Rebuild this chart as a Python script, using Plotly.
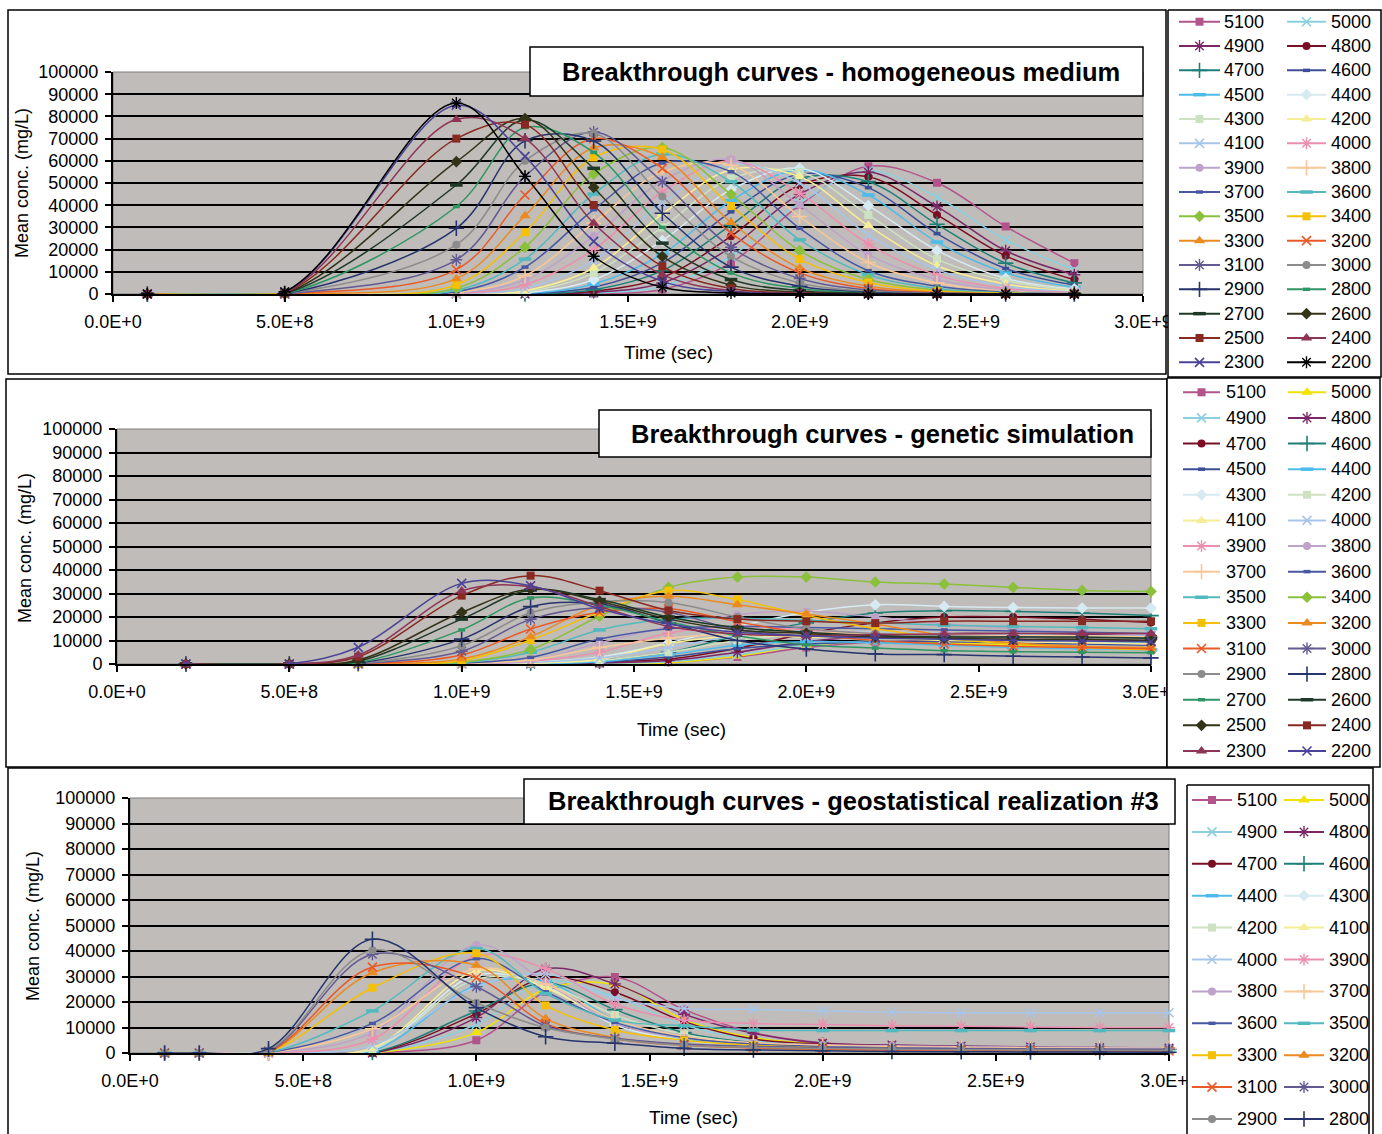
import plotly.graph_objects as go

W, H = 1382, 1134
FONT = "Liberation Sans, Arial, Helvetica, sans-serif"

# ---------------------------------------------------------------- data
XTICKS = [0, 5e8, 1e9, 1.5e9, 2e9, 2.5e9, 3e9]
XTICK_TEXT = ["0.0E+0", "5.0E+8", "1.0E+9", "1.5E+9", "2.0E+9", "2.5E+9", "3.0E+9"]

# series look-up: (colour, marker kind)
PALETTE = [
    ("#B3538C", "sq"), ("#F2E200", "tri"), ("#8BD0DF", "x"), ("#7B2868", "ast"),
    ("#7A0E25", "cir"), ("#1F7F78", "plus"), ("#3E4E96", "sdash"), ("#4DBCEB", "ldash"),
    ("#D6EAF1", "dia"), ("#CDE2C1", "sq"), ("#F6EE96", "tri"), ("#A7C5E9", "x"),
    ("#EC8FAF", "ast"), ("#BEA2C9", "cir"), ("#F8C899", "plus"), ("#4858A3", "sdash"),
    ("#52BABF", "ldash"), ("#8BC03A", "dia"), ("#F5C000", "sq"), ("#EC8A22", "tri"),
    ("#E95A28", "x"), ("#625A92", "ast"), ("#8C8C8C", "cir"), ("#26356D", "plus"),
    ("#2E9663", "sdash"), ("#1E3927", "ldash"), ("#323317", "dia"), ("#882A21", "sq"),
    ("#8E3456", "tri"), ("#4A4398", "x"), ("#000000", "ast"),
]

# --- homogeneous medium
HOM_TIMES = [1e8, 5e8, 1.0e9, 1.2e9, 1.4e9, 1.6e9, 1.8e9, 2.0e9, 2.2e9, 2.4e9, 2.6e9, 2.8e9]
HOM_NAMES = ["5100", "5000", "4900", "4800", "4700", "4600", "4500", "4400", "4300", "4200",
             "4100", "4000", "3900", "3800", "3700", "3600", "3500", "3400", "3300", "3200",
             "3100", "3000", "2900", "2800", "2700", "2600", "2500", "2400", "2300", "2200"]
HOM_STYLE = [0] + list(range(2, 31))
HOM_CONC = [
    [0, 0, 0, 0, 200, 2000, 14000, 40000, 57500, 50100, 30400, 13900],
    [0, 0, 0, 0, 400, 3500, 17000, 41000, 55500, 43600, 24400, 10900],
    [0, 0, 0, 0, 700, 5000, 21000, 45000, 54900, 39400, 19500, 8700],
    [0, 0, 0, 0, 1200, 7500, 26000, 49000, 52800, 35600, 17200, 6400],
    [0, 0, 0, 0, 1900, 10500, 31000, 52000, 50600, 31400, 13900, 5000],
    [0, 0, 0, 150, 3000, 14000, 37000, 54000, 47900, 27200, 11500, 4000],
    [0, 0, 0, 300, 4500, 18000, 42000, 56000, 44600, 23400, 9500, 3000],
    [0, 0, 0, 500, 6400, 24000, 47000, 56600, 39800, 19600, 7000, 2300],
    [0, 0, 0, 900, 9400, 30000, 52000, 55000, 35600, 15700, 6000, 1800],
    [0, 0, 50, 1500, 11700, 36000, 56000, 52800, 30800, 12700, 4500, 1300],
    [0, 0, 100, 2500, 15000, 41000, 58500, 50000, 26600, 11000, 3500, 1000],
    [0, 0, 200, 4200, 20000, 46000, 60000, 45400, 22500, 8500, 2500, 700],
    [0, 0, 400, 6400, 26000, 51000, 60600, 40100, 17700, 6500, 1800, 500],
    [0, 0, 600, 8200, 32000, 55000, 58000, 34900, 14200, 5000, 1300, 300],
    [0, 0, 1000, 12100, 38000, 59000, 55100, 29600, 10500, 3500, 900, 200],
    [0, 0, 1700, 15700, 45000, 63000, 50600, 24400, 8700, 2500, 600, 100],
    [0, 0, 2700, 21100, 54000, 66000, 44900, 19500, 6500, 1800, 400, 100],
    [0, 0, 4200, 27800, 61500, 65100, 39700, 15700, 5200, 1200, 300, 0],
    [0, 0, 6900, 35300, 65900, 61500, 32200, 11700, 3500, 900, 200, 0],
    [0, 0, 11000, 44600, 70000, 56600, 27400, 9500, 2500, 600, 100, 0],
    [0, 0, 15400, 53000, 73000, 50600, 21000, 7000, 1800, 400, 100, 0],
    [0, 100, 22200, 60000, 72300, 43900, 16900, 5000, 1200, 300, 0, 0],
    [0, 100, 29600, 69000, 68900, 36400, 12100, 3500, 800, 200, 0, 0],
    [0, 100, 39400, 75000, 63800, 30000, 9500, 2500, 500, 100, 0, 0],
    [0, 200, 49100, 78500, 56600, 22900, 6500, 1500, 300, 0, 0, 0],
    [0, 300, 59600, 79000, 48000, 16900, 4000, 800, 100, 0, 0, 0],
    [0, 500, 70000, 76300, 40100, 12400, 2500, 500, 100, 0, 0, 0],
    [0, 700, 78600, 70000, 31900, 8700, 1500, 300, 0, 0, 0, 0],
    [0, 900, 85000, 62000, 23700, 5700, 1000, 200, 0, 0, 0, 0],
    [0, 1000, 86000, 53000, 17000, 3000, 500, 100, 0, 0, 0, 0],
]

# --- genetic simulation
GEN_TIMES = [2e8, 5e8, 7e8, 1.0e9, 1.2e9, 1.4e9, 1.6e9, 1.8e9, 2.0e9, 2.2e9, 2.4e9, 2.6e9, 2.8e9, 3.0e9]
GEN_NAMES = ["5100", "5000", "4900", "4800", "4700", "4600", "4500", "4400", "4300", "4200",
             "4100", "4000", "3900", "3800", "3700", "3600", "3500", "3400", "3300", "3200",
             "3100", "3000", "2900", "2800", "2700", "2600", "2500", "2400", "2300", "2200"]
GEN_STYLE = list(range(0, 30))
GEN_CONC = [
    [0, 0, 0, 0, 0, 200, 800, 3000, 7000, 9500, 10500, 10500, 10000, 9500],
    [0, 0, 0, 0, 0, 100, 500, 3300, 8000, 9500, 9000, 8000, 7000, 6500],
    [0, 0, 0, 0, 0, 300, 1000, 4000, 8000, 10000, 10500, 10000, 9500, 9000],
    [0, 0, 0, 0, 0, 400, 1500, 5000, 9500, 12000, 13000, 13000, 12500, 12000],
    [0, 0, 0, 0, 200, 1000, 2100, 6700, 13000, 17500, 20000, 20000, 19000, 17700],
    [0, 0, 0, 0, 300, 1500, 5000, 12000, 17500, 21700, 22700, 22400, 21700, 20600],
    [0, 0, 0, 0, 100, 700, 3000, 6500, 8500, 9500, 9500, 9000, 8500, 8000],
    [0, 0, 0, 0, 200, 1000, 4000, 8000, 9500, 9000, 8000, 7000, 6500, 6000],
    [0, 0, 0, 0, 800, 3000, 9000, 16000, 22000, 25200, 24500, 24000, 23800, 23800],
    [0, 0, 0, 0, 300, 1500, 5000, 10000, 13000, 13500, 13000, 12500, 12000, 11500],
    [0, 0, 0, 0, 400, 2000, 8700, 12000, 11500, 11000, 10000, 9500, 9000, 8500],
    [0, 0, 0, 0, 600, 2500, 7000, 12000, 14000, 13500, 13000, 12500, 12000, 12000],
    [0, 0, 0, 100, 1200, 5000, 13200, 16000, 14500, 13000, 12000, 11500, 11000, 10500],
    [0, 0, 0, 100, 1500, 9000, 16000, 21000, 22400, 20000, 17000, 15000, 13500, 12500],
    [0, 0, 0, 200, 1700, 7000, 11000, 13000, 13500, 13000, 12500, 12000, 12000, 11500],
    [0, 0, 0, 300, 2800, 10600, 15000, 16000, 15500, 15000, 14500, 14000, 13500, 13000],
    [0, 0, 0, 500, 5000, 14500, 19000, 19500, 18500, 17500, 16500, 16000, 15500, 15000],
    [0, 0, 0, 800, 6200, 20300, 32600, 37000, 37000, 34900, 34000, 32600, 31300, 30900],
    [0, 0, 0, 1400, 10200, 22000, 31200, 27400, 20600, 15000, 11000, 8500, 7000, 6000],
    [0, 0, 0, 2100, 11600, 25000, 28800, 25200, 21300, 17000, 12000, 9000, 7500, 7000],
    [0, 0, 100, 3800, 14900, 22000, 23500, 18000, 13000, 10000, 8500, 7500, 7000, 6500],
    [0, 0, 200, 5400, 19000, 24000, 22000, 14600, 12000, 11500, 11500, 11500, 11000, 11000],
    [0, 0, 300, 7800, 21800, 26500, 26200, 20000, 15000, 13000, 12000, 11500, 11000, 10500],
    [0, 0, 400, 10600, 24400, 25500, 17500, 10000, 6400, 4300, 4000, 3300, 3000, 2600],
    [0, 0, 600, 14500, 28100, 25000, 18000, 12000, 8200, 6800, 5700, 5200, 5000, 4800],
    [0, 0, 1200, 19100, 31500, 27400, 20000, 15500, 13500, 12000, 11500, 11500, 11500, 11000],
    [0, 0, 1700, 22000, 31800, 26700, 19100, 14500, 13000, 11500, 11000, 10500, 10500, 10000],
    [0, 0, 3100, 29100, 37600, 31200, 22800, 19100, 18200, 17400, 18200, 18200, 18200, 18200],
    [0, 0, 3800, 31100, 32900, 24500, 16000, 12800, 12000, 12500, 12800, 13000, 13000, 13000],
    [0, 0, 7100, 34300, 33300, 23500, 17000, 13500, 12000, 11000, 10500, 10000, 9800, 9500],
]

# --- geostatistical realization #3
GEO_TIMES = [1e8, 2e8, 4e8, 7e8, 1.0e9, 1.2e9, 1.4e9, 1.6e9, 1.8e9, 2.0e9, 2.2e9, 2.4e9, 2.6e9,
             2.8e9, 3.0e9]
GEO_NAMES = ["5100", "5000", "4900", "4800", "4700", "4600", "4400", "4300", "4200", "4100",
             "4000", "3900", "3800", "3700", "3600", "3500", "3300", "3200", "3100", "3000",
             "2900", "2800"]
GEO_STYLE = [0, 1, 2, 3, 4, 5, 7, 8, 9, 10, 11, 12, 13, 14, 15, 16, 18, 19, 20, 21, 22, 23]
GEO_CONC = [
    [0, 0, 0, 0, 5000, 24000, 29800, 17000, 8000, 4000, 3000, 2500, 2200, 2000, 1900],
    [0, 0, 0, 0, 8000, 25000, 26900, 13000, 6000, 3500, 2500, 2000, 1800, 1600, 1500],
    [0, 0, 0, 0, 11200, 28000, 22000, 11000, 5000, 3000, 2400, 2000, 1800, 1700, 1600],
    [0, 0, 0, 0, 13900, 33000, 27100, 15200, 7700, 3800, 3100, 2700, 2400, 2200, 2000],
    [0, 0, 0, 0, 15400, 29500, 23800, 12300, 5500, 3500, 2800, 2400, 2200, 2000, 1900],
    [0, 0, 0, 200, 16500, 27500, 17000, 8000, 4000, 2800, 2200, 1900, 1700, 1600, 1500],
    [0, 0, 0, 800, 26500, 28000, 13000, 5500, 3200, 2300, 1900, 1700, 1500, 1400, 1300],
    [0, 0, 0, 1400, 30600, 26000, 11000, 5000, 3000, 2200, 1800, 1600, 1500, 1400, 1300],
    [0, 0, 0, 1500, 29000, 27000, 14900, 7300, 3800, 2500, 2000, 1800, 1600, 1500, 1400],
    [0, 0, 0, 2000, 32200, 25600, 12000, 6000, 3500, 2500, 2000, 1800, 1600, 1500, 1400],
    [0, 0, 0, 3000, 26000, 31000, 21400, 17500, 17100, 16500, 16000, 15800, 15800, 15800, 15800],
    [0, 0, 0, 5400, 38000, 33100, 19100, 12900, 11600, 11200, 10700, 10500, 10200, 10000, 10000],
    [0, 0, 100, 8000, 42400, 27800, 11600, 6000, 4000, 3200, 2800, 2500, 2300, 2200, 2100],
    [0, 0, 100, 9500, 33000, 27000, 13000, 6500, 4000, 3000, 2500, 2200, 2000, 1900, 1800],
    [0, 0, 200, 11600, 37000, 24000, 12000, 6000, 3500, 2500, 2000, 1800, 1600, 1500, 1400],
    [0, 0, 200, 16500, 41000, 23300, 12900, 10700, 9000, 8800, 8800, 8800, 8800, 8800, 8800],
    [0, 0, 400, 25600, 39100, 18700, 9000, 5000, 3000, 2200, 1800, 1500, 1300, 1200, 1100],
    [0, 0, 500, 31500, 34400, 13500, 6000, 3200, 2000, 1500, 1200, 1000, 900, 800, 700],
    [0, 0, 600, 33700, 29500, 11500, 5500, 3000, 2000, 1500, 1200, 1000, 900, 800, 800],
    [0, 0, 800, 38700, 26000, 10600, 5800, 3500, 2600, 2200, 1900, 1700, 1600, 1500, 1500],
    [0, 0, 1000, 40300, 19700, 9900, 5500, 3000, 2200, 1800, 1500, 1300, 1200, 1100, 1000],
    [0, 0, 1700, 44600, 17800, 6400, 3800, 1800, 1200, 900, 600, 500, 400, 400, 300],
]

TITLES = ["Breakthrough curves - homogeneous medium",
          "Breakthrough curves - genetic simulation",
          "Breakthrough curves - geostatistical realization #3"]

# ---------------------------------------------------------------- layout geometry (pixels)
PANELS = [
    dict(times=HOM_TIMES, names=HOM_NAMES, styles=HOM_STYLE, conc=HOM_CONC,
         plot=(113, 72, 1143, 294), frame=(8, 10, 1166, 374),
         tbox=(530, 47, 1143, 96), tpos=(841, 72),
         xtitle=(668, 352), ytitle=(22, 183),
         lbox=(1168, 10, 1381, 377), lcols=((1179, 1220, 1222), (1287, 1326, 1329)),
         lrow0=21.7, ldy=24.33),
    dict(times=GEN_TIMES, names=GEN_NAMES, styles=GEN_STYLE, conc=GEN_CONC,
         plot=(117, 429, 1151, 664), frame=(6, 379, 1167, 767),
         tbox=(599, 410, 1151, 457), tpos=(882, 434),
         xtitle=(681, 729), ytitle=(25, 548),
         lbox=(1167, 378, 1380, 767), lcols=((1183, 1220, 1224), (1288, 1326, 1329)),
         lrow0=392.3, ldy=25.62),
    dict(times=GEO_TIMES, names=GEO_NAMES, styles=GEO_STYLE, conc=GEO_CONC,
         plot=(130, 798, 1169, 1053), frame=(8, 768, 1373, 1145),
         tbox=(524, 779, 1175, 824), tpos=(853, 801),
         xtitle=(693, 1117), ytitle=(33, 926),
         lbox=(1187, 785, 1369, 1145), lcols=((1192, 1232, 1235), (1284, 1324, 1327)),
         lrow0=800, ldy=31.9),
]

KIND = {
    "sq": dict(symbol="square", size=8, lw=0),
    "tri": dict(symbol="triangle-up", size=10, lw=0),
    "x": dict(symbol="x-thin", size=9, lw=1.6),
    "ast": dict(symbol="asterisk", size=10, lw=1.4),
    "cir": dict(symbol="circle", size=8, lw=0),
    "plus": dict(symbol="cross-thin", size=11, lw=1.6),
    "sdash": dict(symbol="line-ew", size=5, lw=3.5),
    "ldash": dict(symbol="line-ew", size=9, lw=3.5),
    "dia": dict(symbol="diamond", size=9, lw=0),
}


def px(x):
    return x / W


def py(y):
    return 1 - y / H


def marker_for(style_idx):
    color, kind = PALETTE[style_idx]
    k = KIND[kind]
    return color, dict(symbol=k["symbol"], size=k["size"], color=color,
                       line=dict(color=color, width=k["lw"]))


fig = go.Figure()
shapes, annotations = [], []
layout_axes = {}

for i, p in enumerate(PANELS, start=1):
    x0, y0, x1, y1 = p["plot"]
    suffix = "" if i == 1 else str(i)
    xname, yname = "x" + suffix, "y" + suffix
    layout_axes["xaxis" + suffix] = dict(
        domain=[px(x0), px(x1)], range=[0, 3e9], anchor=yname, automargin=False,
        tickmode="array", tickvals=XTICKS, ticktext=XTICK_TEXT,
        ticks="outside", ticklen=6, tickwidth=1.5, tickcolor="black",
        showline=True, linecolor="black", linewidth=2,
        showgrid=False, zeroline=False, fixedrange=True,
        ticklabelstandoff=4,
        tickfont=dict(family=FONT, size=18, color="black"))
    layout_axes["yaxis" + suffix] = dict(
        domain=[py(y1), py(y0)], range=[0, 100000], anchor=xname, automargin=False,
        tickmode="linear", tick0=0, dtick=10000, tickformat="d",
        ticks="outside", ticklen=6, tickwidth=1.5, tickcolor="black",
        showline=True, linecolor="black", linewidth=2,
        showgrid=True, gridcolor="black", gridwidth=2, zeroline=False,
        fixedrange=True, ticklabelstandoff=3,
        tickfont=dict(family=FONT, size=18, color="black"))

    # grey plot area
    shapes.append(dict(type="rect", xref=f"{xname} domain", yref=f"{yname} domain",
                       x0=0, x1=1, y0=0, y1=1, fillcolor="#C0BCB9",
                       line=dict(color="#7F7F7F", width=1), layer="below"))
    # chart frame
    fx0, fy0, fx1, fy1 = p["frame"]
    shapes.append(dict(type="rect", xref="paper", yref="paper",
                       x0=px(fx0), x1=px(fx1), y0=py(fy1), y1=py(fy0),
                       line=dict(color="black", width=1.5), layer="below"))
    # title box
    tx0, ty0, tx1, ty1 = p["tbox"]
    shapes.append(dict(type="rect", xref="paper", yref="paper",
                       x0=px(tx0), x1=px(tx1), y0=py(ty1), y1=py(ty0),
                       fillcolor="white", line=dict(color="black", width=1.5),
                       layer="above"))
    annotations.append(dict(xref="paper", yref="paper", x=px(p["tpos"][0]),
                            y=py(p["tpos"][1]), text=f"<b>{TITLES[i - 1]}</b>",
                            showarrow=False, xanchor="center", yanchor="middle",
                            font=dict(family=FONT, size=25.5, color="black")))
    annotations.append(dict(xref="paper", yref="paper", x=px(p["xtitle"][0]),
                            y=py(p["xtitle"][1]), text="Time (sec)", showarrow=False,
                            xanchor="center", yanchor="middle",
                            font=dict(family=FONT, size=19, color="black")))
    annotations.append(dict(xref="paper", yref="paper", x=px(p["ytitle"][0]),
                            y=py(p["ytitle"][1]), text="Mean conc. (mg/L)",
                            showarrow=False, textangle=-90,
                            xanchor="center", yanchor="middle",
                            font=dict(family=FONT, size=18, color="black")))

    # breakthrough curves
    for name, sidx, vals in zip(p["names"], p["styles"], p["conc"]):
        color, mk = marker_for(sidx)
        fig.add_trace(go.Scatter(
            x=p["times"], y=vals, xaxis=xname, yaxis=yname, name=name,
            mode="lines+markers", cliponaxis=False, showlegend=False,
            line=dict(color=color, width=1.5, shape="spline", smoothing=1.0),
            marker=mk, hoverinfo="skip"))

# ---------------------------------------------------------------- legends (pixel overlay axes)
OV_X, OV_Y = "x4", "y4"
layout_axes["xaxis4"] = dict(domain=[0, 1], range=[0, W], visible=False, fixedrange=True,
                             anchor=OV_Y, automargin=False, showticklabels=False)
layout_axes["yaxis4"] = dict(domain=[0, 1], range=[H, 0], visible=False, fixedrange=True,
                             anchor=OV_X, automargin=False, showticklabels=False)

for p in PANELS:
    bx0, by0, bx1, by1 = p["lbox"]
    fig.add_trace(go.Scatter(
        x=[bx0, bx1, bx1, bx0, bx0], y=[by0, by0, by1, by1, by0], xaxis=OV_X, yaxis=OV_Y,
        mode="lines", fill="toself", fillcolor="white",
        line=dict(color="black", width=1.5), showlegend=False, hoverinfo="skip"))
    for k, (name, sidx) in enumerate(zip(p["names"], p["styles"])):
        row, col = divmod(k, 2)
        la, lb, lt = p["lcols"][col]
        yy = p["lrow0"] + row * p["ldy"]
        color, mk = marker_for(sidx)
        mk = dict(mk, opacity=[0, 1, 0])
        fig.add_trace(go.Scatter(
            x=[la, (la + lb) / 2, lb], y=[yy, yy, yy], xaxis=OV_X, yaxis=OV_Y,
            mode="lines+markers", line=dict(color=color, width=2), marker=mk,
            showlegend=False, hoverinfo="skip"))
        annotations.append(dict(xref=OV_X, yref=OV_Y, x=lt, y=yy, text=name,
                                showarrow=False, xanchor="left", yanchor="middle",
                                font=dict(family=FONT, size=18, color="black")))

fig.update_layout(
    template="none",
    width=W, height=H, autosize=False,
    margin=dict(l=0, r=0, t=0, b=0, pad=0, autoexpand=False),
    paper_bgcolor="white", plot_bgcolor="rgba(0,0,0,0)",
    showlegend=False, shapes=shapes, annotations=annotations,
    font=dict(family=FONT, size=18, color="black"),
    **layout_axes)

fig.write_html("out.html")
